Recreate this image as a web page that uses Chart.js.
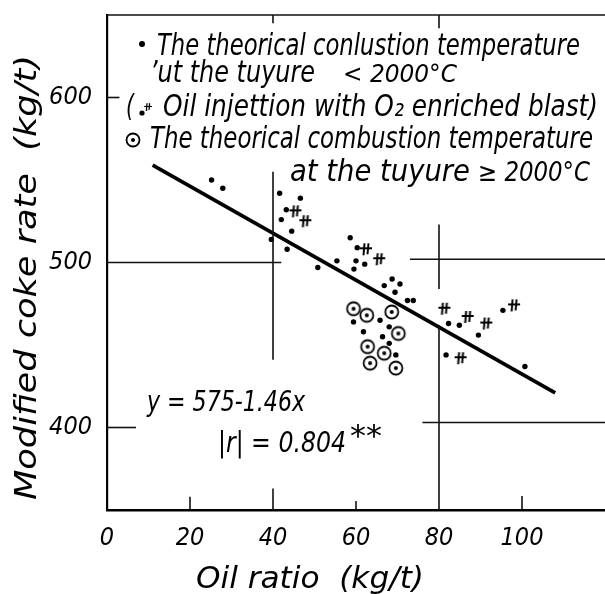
<!DOCTYPE html>
<html>
<head>
<meta charset="utf-8">
<script src="https://cdn.jsdelivr.net/npm/chart.js@4.4.1/dist/chart.umd.min.js"></script>
<style>
  html, body { margin: 0; padding: 0; background: #fff; }
</style>
</head>
<body>
<canvas id="cokeChart" width="605" height="594"></canvas>
<script>
// axis ticks
const xTicks = [0, 20, 40, 60, 80, 100];
const yTicks = [400, 500, 600];

// theorical combustion temperature at the tuyere < 2000 C
const lowTempOil  = [25.2, 27.9, 41.6, 46.6, 43.2, 42.0, 44.5, 39.6, 43.4, 50.8, 55.4, 58.6,
                     60.3, 60.0, 62.1, 59.5, 68.7, 66.8, 70.6, 69.4, 72.4, 73.8, 59.4, 65.8,
                     68.0, 61.8, 66.4, 68.0, 69.6, 82.3, 84.9, 89.5, 95.4, 81.7, 100.7];
const lowTempCoke = [550, 545, 542, 539, 532, 526, 519, 514, 508, 497, 501, 515,
                     509, 501, 499, 496, 490, 486, 487, 482, 477, 477, 464, 465,
                     461, 458, 455, 451, 444, 463, 462, 456, 471, 444, 437];

// oil injection with O2 enriched blast
const o2Oil  = [45.4, 47.8, 62.4, 65.6, 81.3, 86.9, 91.4, 98.1, 85.2];
const o2Coke = [531, 525, 508, 502, 472, 467, 463, 474, 442];

// theorical combustion temperature at the tuyere >= 2000 C
const highTempOil  = [59.4, 62.6, 68.6, 70.2, 62.8, 66.8, 63.4, 69.6];
const highTempCoke = [472, 468, 470, 457, 449, 445, 439, 436];

// y = 575 - 1.46x, ends as drawn
const fitOil  = [11, 108];
const fitCoke = [559, 421];

// hand drawn guide lines [x1, y1, x2, y2]
const guideLines = [
  [0, 650, 120, 650],
  [0, 600, 3, 600],
  [0, 500, 42, 500],
  [73, 502, 120, 502],
  [0, 400, 7, 400],
  [76, 403, 120, 403],
  [40, 555, 40, 441],
  [80, 523, 80, 484],
  [80, 462, 80, 350],
  [20, 350, 20, 358],
  [40, 350, 40, 363],
  [60, 350, 60, 355.5],
  [100, 350, 100, 358.5],
  [40, 650, 40, 645],
  [80, 650, 80, 642]
];

const hand = '"Liberation Sans Narrow", "DejaVu Sans Condensed", "Liberation Sans", sans-serif';

function zip(xs, ys) {
  return xs.map((x, i) => ({ x: x, y: ys[i] }));
}

// marker: cross with two strokes
const crossMark = document.createElement("canvas");
crossMark.width = 16; crossMark.height = 16;
(function () {
  const c = crossMark.getContext("2d");
  c.strokeStyle = "#000";
  c.lineWidth = 2;
  c.beginPath();
  c.moveTo(2, 7); c.lineTo(14, 7);
  c.moveTo(6.5, 2); c.lineTo(5.5, 14);
  c.moveTo(10.5, 2); c.lineTo(9.5, 13);
  c.stroke();
})();

// marker: circle with a dot
const ringMark = document.createElement("canvas");
ringMark.width = 18; ringMark.height = 18;
(function () {
  const c = ringMark.getContext("2d");
  c.strokeStyle = "#000";
  c.fillStyle = "#000";
  c.lineWidth = 1.8;
  c.beginPath();
  c.arc(9, 9, 6.5, 0, Math.PI * 2);
  c.stroke();
  c.beginPath();
  c.arc(9, 9, 2, 0, Math.PI * 2);
  c.fill();
})();

function fitText(ctx, text, x, y, w, size) {
  ctx.font = "italic " + size + "px " + hand;
  const m = ctx.measureText(text).width;
  ctx.save();
  ctx.translate(x, y);
  ctx.scale(w / m, 1);
  ctx.fillText(text, 0, 0);
  ctx.restore();
}

const notesPlugin = {
  id: "notes",
  afterDraw(chart) {
    const ctx = chart.ctx;
    ctx.save();
    ctx.fillStyle = "#000";
    ctx.textBaseline = "alphabetic";
    ctx.textAlign = "left";

    // legend notes
    ctx.beginPath(); ctx.arc(142, 44, 3, 0, Math.PI * 2); ctx.fill();
    fitText(ctx, "The theorical conlustion temperature", 157, 55, 423, 30);
    fitText(ctx, "\u2019ut the tuyure", 150, 82, 165, 30);
    fitText(ctx, "< 2000\u00b0C", 343, 82, 114, 24);

    fitText(ctx, "(", 126, 116, 8, 30);
    ctx.beginPath(); ctx.arc(142, 113, 2.6, 0, Math.PI * 2); ctx.fill();
    ctx.drawImage(crossMark, 143, 102, 10, 10);
    fitText(ctx, "Oil injettion with O\u2082 enriched blast)", 163, 116, 435, 30);

    ctx.drawImage(ringMark, 124, 131, 18, 18);
    fitText(ctx, "The theorical combustion temperature", 150, 148, 443, 30);
    fitText(ctx, "at the tuyure", 290, 181, 180, 30);
    fitText(ctx, "\u2265 2000\u00b0C", 478, 181, 112, 26);

    // regression note
    fitText(ctx, "y = 575-1.46x", 147, 411, 158, 28);
    fitText(ctx, "|r| = 0.804", 218, 452, 128, 28);
    fitText(ctx, "**", 350, 446, 32, 30);

    // axis titles
    ctx.save();
    ctx.translate(36, 500);
    ctx.rotate(-Math.PI / 2);
    fitText(ctx, "Modified coke rate  (kg/t)", 0, 0, 445, 30);
    ctx.restore();
    fitText(ctx, "Oil ratio  (kg/t)", 196, 588, 228, 30);
    ctx.restore();
  }
};

const tickFont = { family: hand, size: 25, style: "italic" };

const datasets = guideLines.map(g => ({
  data: [{ x: g[0], y: g[1] }, { x: g[2], y: g[3] }],
  showLine: true,
  borderColor: "#111",
  borderWidth: 1.6,
  pointRadius: 0,
  clip: false
}));

datasets.push({
  label: "y = 575 - 1.46x",
  data: zip(fitOil, fitCoke),
  showLine: true,
  borderColor: "#000",
  borderWidth: 3.6,
  pointRadius: 0
});
datasets.push({
  label: "< 2000 C",
  data: zip(lowTempOil, lowTempCoke),
  pointStyle: "circle",
  pointRadius: 2.7,
  backgroundColor: "#000",
  borderWidth: 0
});
datasets.push({
  label: "O2 enriched blast",
  data: zip(o2Oil, o2Coke),
  pointStyle: crossMark,
  pointRadius: 7
});
datasets.push({
  label: ">= 2000 C",
  data: zip(highTempOil, highTempCoke),
  pointStyle: ringMark,
  pointRadius: 8
});

new Chart(document.getElementById("cokeChart"), {
  type: "scatter",
  data: { datasets: datasets },
  options: {
    responsive: false,
    animation: false,
    layout: { autoPadding: false, padding: { top: 15, right: 0, bottom: 0, left: 0 } },
    plugins: {
      legend: { display: false },
      tooltip: { enabled: false }
    },
    scales: {
      x: {
        type: "linear",
        min: 0,
        max: 120,
        afterFit: s => { s.height = 84; s.paddingLeft = 0; s.paddingRight = 0; },
        afterBuildTicks: s => { s.ticks = xTicks.map(v => ({ value: v })); },
        grid: { display: false, drawTicks: false },
        border: { color: "#000", width: 2.5 },
        ticks: { color: "#000", font: tickFont, padding: 13, maxRotation: 0, autoSkip: false }
      },
      y: {
        type: "linear",
        min: 350,
        max: 650,
        afterFit: s => { s.width = 107; s.paddingTop = 0; s.paddingBottom = 0; },
        afterBuildTicks: s => { s.ticks = yTicks.map(v => ({ value: v })); },
        grid: { display: false, drawTicks: false },
        border: { color: "#000", width: 2.2 },
        ticks: { color: "#000", font: tickFont, padding: 15, autoSkip: false }
      }
    }
  },
  plugins: [notesPlugin]
});
</script>
</body>
</html>
